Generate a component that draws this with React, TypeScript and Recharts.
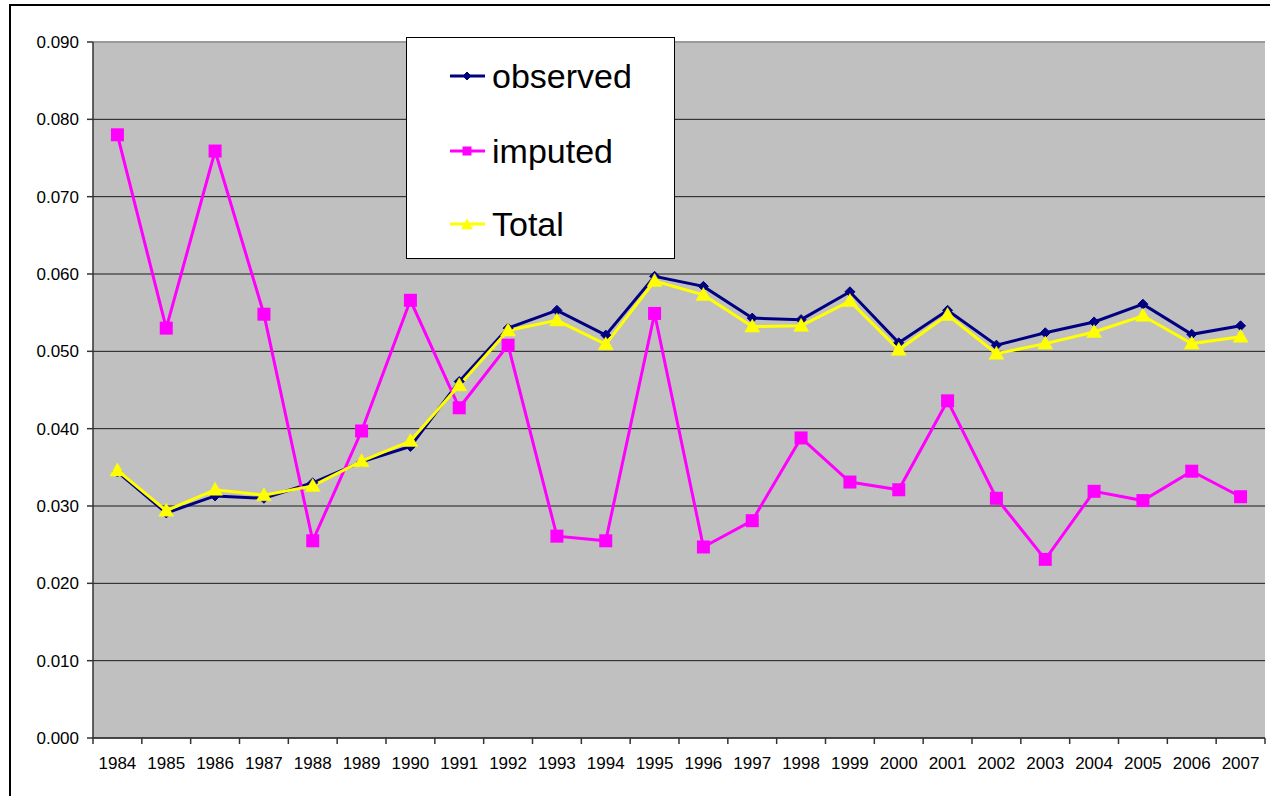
import React from "react";
import { LineChart, Line, XAxis, YAxis, CartesianGrid, Legend, ReferenceLine } from "recharts";

const years = ["1984","1985","1986","1987","1988","1989","1990","1991","1992","1993","1994","1995","1996","1997","1998","1999","2000","2001","2002","2003","2004","2005","2006","2007"];
const observed = [0.0344,0.0291,0.0313,0.0310,0.0330,0.0357,0.0377,0.0461,0.0530,0.0553,0.0521,0.0597,0.0584,0.0543,0.0541,0.0577,0.0511,0.0553,0.0508,0.0524,0.0538,0.0561,0.0522,0.0533];
const imputed = [0.0780,0.0530,0.0759,0.0548,0.0255,0.0397,0.0566,0.0427,0.0508,0.0261,0.0255,0.0549,0.0247,0.0281,0.0388,0.0331,0.0321,0.0436,0.0310,0.0231,0.0319,0.0307,0.0345,0.0312];
const total = [0.0346,0.0294,0.0321,0.0314,0.0326,0.0358,0.0384,0.0456,0.0527,0.0540,0.0509,0.0591,0.0573,0.0532,0.0533,0.0565,0.0502,0.0547,0.0497,0.0510,0.0525,0.0546,0.0510,0.0519];
const yTicks = [0, 0.01, 0.02, 0.03, 0.04, 0.05, 0.06, 0.07, 0.08, 0.09];

const data = years.map((y, i) => ({ year: y, observed: observed[i], imputed: imputed[i], total: total[i] }));

const W = 1270;
const H = 796;
const PLOT_LEFT = 93;
const PLOT_RIGHT = 1265;
const BAND = (PLOT_RIGHT - PLOT_LEFT) / years.length;
const FONT = "'Liberation Sans', Arial, sans-serif";

const NAVY = "#000080";
const MAGENTA = "#FF00FF";
const YELLOW = "#FFFF00";

const Diamond = ({ cx, cy, r = 5, fill }: any) => (
  <path d={`M${cx},${cy - r} L${cx + r},${cy} L${cx},${cy + r} L${cx - r},${cy} Z`} fill={fill} stroke={fill} strokeWidth={1} />
);
const Square = ({ cx, cy, s = 13, fill }: any) => (
  <rect x={cx - s / 2} y={cy - s / 2} width={s} height={s} fill={fill} />
);
const Triangle = ({ cx, cy, w = 14, h = 12, fill }: any) => (
  <path d={`M${cx},${cy - h / 2 - 1} L${cx + w / 2},${cy + h / 2 - 1} L${cx - w / 2},${cy + h / 2 - 1} Z`} fill={fill} stroke={fill} strokeWidth={0.5} />
);

const XTick = (props: any) => {
  const { x, y, payload, index } = props;
  const half = BAND / 2;
  return (
    <g>
      <line x1={x - half} x2={x - half} y1={y} y2={y + 6} stroke="#333" strokeWidth={1.5} />
      {index === years.length - 1 && (
        <line x1={x + half} x2={x + half} y1={y} y2={y + 6} stroke="#333" strokeWidth={1.5} />
      )}
      <text x={x} y={y + 31} textAnchor="middle" fontSize={17} fontFamily={FONT} fill="#000">
        {payload.value}
      </text>
    </g>
  );
};

const legendItems = [
  { label: "observed", color: NAVY, kind: "diamond" },
  { label: "imputed", color: MAGENTA, kind: "square" },
  { label: "Total", color: YELLOW, kind: "triangle" },
];

const LegendBox = () => (
  <div
    style={{
      width: 269,
      height: 222,
      boxSizing: "border-box",
      border: "1px solid #000",
      background: "#fff",
      position: "relative",
      fontFamily: FONT,
    }}
  >
    {legendItems.map((it, i) => {
      const cy = [38, 113, 186][i];
      return (
        <div key={it.label} style={{ position: "absolute", left: 0, top: cy - 20, height: 40, width: 269 }}>
          <svg width={40} height={40} style={{ position: "absolute", left: 42, top: 0 }}>
            <line x1={1} x2={36} y1={20} y2={20} stroke={it.color} strokeWidth={3} />
            {it.kind === "diamond" && <Diamond cx={18} cy={20} r={4} fill={it.color} />}
            {it.kind === "square" && <Square cx={18} cy={20} s={9} fill={it.color} />}
            {it.kind === "triangle" && <Triangle cx={18} cy={21} w={11} h={10} fill={it.color} />}
          </svg>
          <span
            style={{
              position: "absolute",
              left: 85,
              top: 0,
              lineHeight: "40px",
              fontSize: 34,
              color: "#000",
              whiteSpace: "nowrap",
            }}
          >
            {it.label}
          </span>
        </div>
      );
    })}
  </div>
);

export default function App() {
  return (
    <div style={{ position: "absolute", left: 0, top: 0, width: W, height: H, overflow: "hidden", background: "#fff" }}>
      <div
        style={{
          position: "absolute",
          left: 9,
          top: 4,
          width: W + 20,
          height: H + 20,
          border: "2px solid #000",
          boxSizing: "border-box",
        }}
      />
      <div style={{ position: "absolute", left: 0, top: 0 }}>
        <LineChart width={W} height={H} data={data} margin={{ top: 42, right: W - PLOT_RIGHT, bottom: 0, left: 0 }}>
          <CartesianGrid vertical={false} fill="#C0C0C0" stroke="#1a1a1a" strokeWidth={1} />
          <ReferenceLine y={0.09} stroke="#9a9a9a" strokeWidth={2} />
          <XAxis
            dataKey="year"
            interval={0}
            padding={{ left: BAND / 2, right: BAND / 2 }}
            tickSize={0}
            tickMargin={0}
            tickLine={false}
            axisLine={{ stroke: "#333", strokeWidth: 1.5 }}
            tick={<XTick />}
            height={58}
          />
          <YAxis
            width={PLOT_LEFT}
            domain={[0, 0.09]}
            ticks={yTicks}
            interval={0}
            tickFormatter={(v: number) => v.toFixed(3)}
            tickSize={6}
            tickMargin={8}
            tickLine={{ stroke: "#333", strokeWidth: 1.5 }}
            axisLine={{ stroke: "#333", strokeWidth: 1.5 }}
            tick={{ fontSize: 17, fontFamily: FONT, fill: "#000" }}
            allowDataOverflow
          />
          <Legend
            layout="vertical"
            align="center"
            verticalAlign="middle"
            wrapperStyle={{ left: 406, top: 37, width: 269, height: 222 }}
            content={() => <LegendBox />}
          />
          <Line
            dataKey="observed"
            stroke={NAVY}
            strokeWidth={3}
            isAnimationActive={false}
            dot={(p: any) => <Diamond key={`o${p.index}`} cx={p.cx} cy={p.cy} r={5} fill={NAVY} />}
            activeDot={false}
          />
          <Line
            dataKey="imputed"
            stroke={MAGENTA}
            strokeWidth={3}
            isAnimationActive={false}
            dot={(p: any) => <Square key={`i${p.index}`} cx={p.cx} cy={p.cy} s={13} fill={MAGENTA} />}
            activeDot={false}
          />
          <Line
            dataKey="total"
            stroke={YELLOW}
            strokeWidth={3}
            isAnimationActive={false}
            dot={(p: any) => <Triangle key={`t${p.index}`} cx={p.cx} cy={p.cy} w={15} h={13} fill={YELLOW} />}
            activeDot={false}
          />
        </LineChart>
      </div>
    </div>
  );
}
